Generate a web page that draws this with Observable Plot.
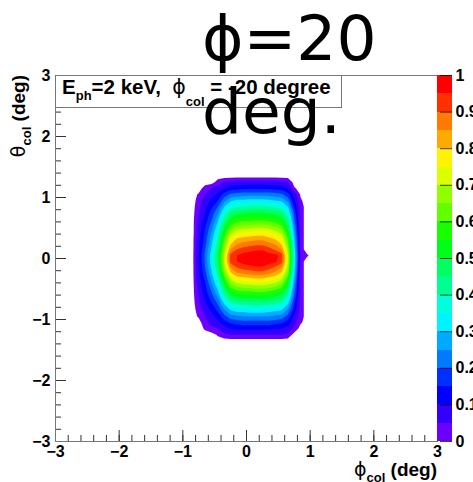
<!DOCTYPE html>
<html>
<head>
<meta charset="utf-8">
<script src="https://cdn.jsdelivr.net/npm/d3@7"></script>
<script src="https://cdn.jsdelivr.net/npm/@observablehq/plot@0.6"></script>
<style>
  html, body { margin: 0; padding: 0; background: #fff; }
  #chart { position: relative; width: 473px; height: 482px; overflow: hidden; background: #fff; }
  #chart svg { position: absolute; top: 0; }
</style>
</head>
<body>
<div id="chart"></div>
<script>
// Collimator acceptance map: normalised intensity over (phi_col, theta_col)

const titleText = "ϕ=20 deg.";

const phiTicks = [-3, -2, -1, 0, 1, 2, 3];
const thetaTicks = [-3, -2, -1, 0, 1, 2, 3];
const zTicks = [0, 0.1, 0.2, 0.3, 0.4, 0.5, 0.6, 0.7, 0.8, 0.9, 1];

// 20 filled contour levels and their palette colours (violet -> red)
const zLevels = [0, 0.05, 0.1, 0.15, 0.2, 0.25, 0.3, 0.35, 0.4, 0.45,
                 0.5, 0.55, 0.6, 0.65, 0.7, 0.75, 0.8, 0.85, 0.9, 0.95];
const zColors = ["#6c00ff", "#3200ff", "#0000ff", "#0030ff", "#007bff",
                 "#00aaff", "#00f3ff", "#00ffdb", "#00ff92", "#00ff61",
                 "#00ff18", "#18ff00", "#61ff00", "#92ff00", "#dbff00",
                 "#fff300", "#ffaa00", "#ff7a00", "#ff3000", "#ff0000"];
// empty bins are left white: the lowest band starts just above zero
const contourFloor = 0.015;

// bin centres of the intensity grid (deg)
const phiBins = [-0.85, -0.75, -0.65, -0.55, -0.45, -0.35, -0.25, -0.15, -0.05, 0.05,
                 0.15, 0.25, 0.35, 0.45, 0.55, 0.65, 0.75, 0.85, 0.95, 1.05];
const thetaBins = [1.35, 1.25, 1.15, 1.05, 0.95, 0.85, 0.75, 0.65, 0.55, 0.45,
                   0.35, 0.25, 0.15, 0.05, -0.05, -0.15, -0.25, -0.35, -0.45, -0.55,
                   -0.65, -0.75, -0.85, -0.95, -1.05, -1.15, -1.25, -1.35];

// normalised intensity, one row per theta bin (top to bottom), one column per phi bin
const intensity = [
  [0,0,0,0,0,0,0,0,0,0,0,0,0,0,0,0,0,0,0,0],
  [0,0,0,0,0.03,0.05,0.06,0.07,0.07,0.07,0.07,0.07,0.07,0.07,0.06,0.05,0,0,0,0],
  [0,0,0.03,0.05,0.07,0.10,0.13,0.13,0.14,0.14,0.14,0.14,0.14,0.13,0.13,0.10,0.02,0,0,0],
  [0,0.02,0.05,0.08,0.11,0.17,0.21,0.22,0.23,0.23,0.23,0.23,0.23,0.22,0.21,0.17,0.08,0.01,0,0],
  [0,0.03,0.07,0.11,0.15,0.23,0.29,0.31,0.31,0.32,0.32,0.32,0.31,0.30,0.29,0.23,0.11,0.02,0,0],
  [0,0.04,0.09,0.14,0.20,0.30,0.37,0.39,0.40,0.41,0.41,0.41,0.40,0.39,0.37,0.30,0.14,0.03,0,0],
  [0,0.05,0.10,0.17,0.24,0.36,0.45,0.48,0.49,0.50,0.50,0.50,0.49,0.48,0.45,0.36,0.18,0.03,0,0],
  [0,0.06,0.12,0.19,0.28,0.42,0.52,0.56,0.57,0.57,0.58,0.58,0.57,0.55,0.52,0.42,0.20,0.03,0,0],
  [0,0.07,0.14,0.22,0.32,0.48,0.59,0.63,0.65,0.65,0.66,0.66,0.65,0.63,0.59,0.48,0.23,0.03,0,0],
  [0,0.07,0.16,0.24,0.36,0.53,0.67,0.71,0.73,0.73,0.74,0.74,0.73,0.70,0.67,0.53,0.26,0.03,0,0],
  [0,0.08,0.17,0.27,0.39,0.59,0.74,0.79,0.80,0.81,0.82,0.82,0.80,0.78,0.74,0.59,0.29,0.03,0,0],
  [0,0.09,0.18,0.29,0.42,0.63,0.79,0.84,0.86,0.87,0.88,0.88,0.86,0.84,0.79,0.63,0.31,0.03,0,0],
  [0,0.09,0.20,0.31,0.45,0.68,0.85,0.90,0.92,0.93,0.94,0.94,0.92,0.89,0.85,0.68,0.33,0.03,0,0],
  [0,0.10,0.21,0.33,0.48,0.71,0.92,0.95,0.97,0.98,0.99,1.00,0.97,0.97,0.93,0.71,0.35,0.04,0.02,0],
  [0,0.10,0.21,0.33,0.48,0.71,0.92,0.95,0.97,0.98,0.99,0.99,0.97,0.96,0.92,0.71,0.35,0.03,0,0],
  [0,0.09,0.20,0.31,0.45,0.68,0.85,0.90,0.92,0.93,0.94,0.94,0.92,0.89,0.85,0.68,0.33,0.03,0,0],
  [0,0.09,0.18,0.29,0.42,0.63,0.78,0.84,0.85,0.86,0.87,0.87,0.85,0.83,0.78,0.63,0.30,0.03,0,0],
  [0,0.08,0.16,0.26,0.37,0.56,0.70,0.75,0.76,0.77,0.78,0.78,0.76,0.74,0.70,0.56,0.27,0.03,0,0],
  [0,0.07,0.14,0.23,0.33,0.50,0.62,0.66,0.68,0.68,0.69,0.69,0.68,0.66,0.62,0.50,0.24,0.03,0,0],
  [0,0.06,0.13,0.20,0.29,0.43,0.54,0.58,0.59,0.59,0.60,0.60,0.59,0.57,0.54,0.43,0.21,0.03,0,0],
  [0,0.05,0.11,0.17,0.24,0.37,0.46,0.49,0.50,0.50,0.51,0.51,0.50,0.48,0.46,0.37,0.18,0.03,0,0],
  [0,0.04,0.09,0.14,0.20,0.30,0.38,0.40,0.41,0.42,0.42,0.42,0.41,0.40,0.38,0.30,0.15,0.03,0,0],
  [0,0.03,0.07,0.11,0.16,0.24,0.30,0.32,0.32,0.33,0.33,0.33,0.32,0.31,0.30,0.24,0.12,0.03,0,0],
  [0,0.02,0.05,0.08,0.12,0.18,0.23,0.24,0.25,0.25,0.25,0.25,0.25,0.24,0.23,0.18,0.09,0.03,0,0],
  [0,0,0.04,0.06,0.09,0.13,0.16,0.17,0.18,0.18,0.18,0.18,0.18,0.17,0.16,0.13,0.06,0.02,0,0],
  [0,0,0.02,0.04,0.05,0.08,0.10,0.11,0.11,0.11,0.11,0.11,0.11,0.10,0.10,0.08,0.04,0,0,0],
  [0,0,0,0,0.02,0.04,0.05,0.05,0.05,0.05,0.05,0.05,0.05,0.05,0.05,0.04,0,0,0,0],
  [0,0,0,0,0,0,0,0,0,0,0,0,0,0,0,0,0,0,0,0]
];

// ---- layout ----
const W = 473, H = 482;
const margin = {left: 55, right: 36, top: 75, bottom: 41};
const frameW = W - margin.left - margin.right;
const frameH = H - margin.top - margin.bottom;
const sans = "'Liberation Sans', Arial, Helvetica, sans-serif";
const greek = "'DejaVu Sans', sans-serif";
const numFormat = d3.format("~g");

const binW = phiBins[1] - phiBins[0];
const binH = thetaBins[0] - thetaBins[1];
const gridBounds = {
  x1: phiBins[0] - binW / 2,
  x2: phiBins[phiBins.length - 1] + binW / 2,
  y1: thetaBins[0] + binH / 2,
  y2: thetaBins[thetaBins.length - 1] - binH / 2
};
const zThresholds = [contourFloor, ...zLevels.slice(1)];
const colorScale = {type: "threshold", domain: zLevels.slice(1), range: zColors};
const minorTicks = d3.ticks(-3, 3, 30);

const mainPlot = Plot.plot({
  width: W,
  height: H,
  marginLeft: margin.left,
  marginRight: margin.right,
  marginTop: margin.top,
  marginBottom: margin.bottom,
  style: {background: "transparent", fontFamily: sans, fontSize: "16px", fontWeight: "bold", color: "#000"},
  x: {domain: [-3, 3]},
  y: {domain: [-3, 3]},
  color: colorScale,
  marks: [
    Plot.contour(intensity.flat(), {
      ...gridBounds,
      width: phiBins.length,
      height: thetaBins.length,
      fill: Plot.identity,
      thresholds: zThresholds
    }),
    // inward-pointing ticks, ROOT style
    Plot.tickX(minorTicks, {insetTop: frameH - 6, stroke: "#333"}),
    Plot.tickX(phiTicks, {insetTop: frameH - 11, stroke: "#333"}),
    Plot.tickY(minorTicks, {insetRight: frameW - 6, stroke: "#333"}),
    Plot.tickY(thetaTicks, {insetRight: frameW - 11, stroke: "#333"}),
    Plot.frame({stroke: "#777"}),
    Plot.axisX(phiTicks, {tickSize: 0, tickPadding: 4, tickFormat: numFormat, label: null}),
    Plot.axisY(thetaTicks, {tickSize: 0, tickPadding: 5, tickFormat: numFormat, label: null})
  ]
});

// ---- colour bar (z axis) ----
const zUpper = [...zLevels.slice(1), 1];
const barPlot = Plot.plot({
  width: W - (margin.left + frameW),
  height: H,
  marginLeft: 0,
  marginRight: 21,
  marginTop: margin.top,
  marginBottom: margin.bottom,
  style: {background: "transparent", fontFamily: sans, fontSize: "16px", fontWeight: "bold", color: "#000"},
  x: {domain: [0, 1], axis: null},
  y: {domain: [0, 1]},
  color: colorScale,
  marks: [
    Plot.rect(zLevels, {x1: 0, x2: 1, y1: d => d, y2: (d, i) => zUpper[i], fill: d => d, shapeRendering: "crispEdges"}),
    Plot.tickY(zTicks, {insetLeft: 3, stroke: "#000", strokeOpacity: 0.75}),
    Plot.axisY(zTicks, {anchor: "right", tickSize: 0, tickPadding: 3, tickFormat: numFormat, label: null})
  ]
});
barPlot.style.left = (margin.left + frameW) + "px";

// ---- annotations ----
const svg = d3.select(mainPlot);

// label box in the upper-left corner of the frame
const box = svg.append("g");
box.append("rect")
  .attr("x", margin.left + 0.5).attr("y", margin.top + 0.5)
  .attr("width", 286).attr("height", 32)
  .attr("fill", "#fff").attr("stroke", "#777");
const lab = box.append("text")
  .attr("x", margin.left + 7).attr("y", margin.top + 19)
  .attr("text-anchor", "start")
  .attr("font-family", sans).attr("font-size", 20.5).attr("font-weight", "bold")
  .style("white-space", "pre");
lab.append("tspan").text("E");
lab.append("tspan").attr("font-size", 13).attr("dy", 6).text("ph");
lab.append("tspan").attr("dy", -6).text("=2 keV,  ");
lab.append("tspan").attr("font-family", greek).attr("font-weight", "normal").text("ϕ");
lab.append("tspan").attr("font-size", 13).attr("dy", 12).text("col");
lab.append("tspan").attr("dy", -12).text(" = -20 degree");

// x axis title
const xt = svg.append("text")
  .attr("x", margin.left + frameW).attr("y", 476).attr("text-anchor", "end")
  .attr("font-family", sans).attr("font-size", 19).attr("font-weight", "bold")
  .style("white-space", "pre");
xt.append("tspan").attr("font-family", greek).attr("font-weight", "normal").text("ϕ");
xt.append("tspan").attr("font-size", 13).attr("dy", 6).text("col");
xt.append("tspan").attr("dy", -6).text(" (deg)");

// y axis title
const yt = svg.append("text")
  .attr("transform", "translate(25,75) rotate(-90)").attr("text-anchor", "end")
  .attr("font-family", sans).attr("font-size", 19).attr("font-weight", "bold")
  .style("white-space", "pre");
yt.append("tspan").attr("font-family", greek).attr("font-weight", "normal").text("θ");
yt.append("tspan").attr("font-size", 13).attr("dy", 6).text("col");
yt.append("tspan").attr("dy", -6).text(" (deg)");

// large title, wrapped over two lines
titleText.split(" ").forEach((line, i) => {
  svg.append("text")
    .attr("x", 202).attr("y", 60 + i * 73)
    .attr("text-anchor", "start")
    .attr("font-family", greek).attr("font-size", 63).attr("font-weight", "normal")
    .attr("fill", "#000")
    .text(line);
});

const chart = document.getElementById("chart");
chart.append(mainPlot, barPlot);
</script>
</body>
</html>
